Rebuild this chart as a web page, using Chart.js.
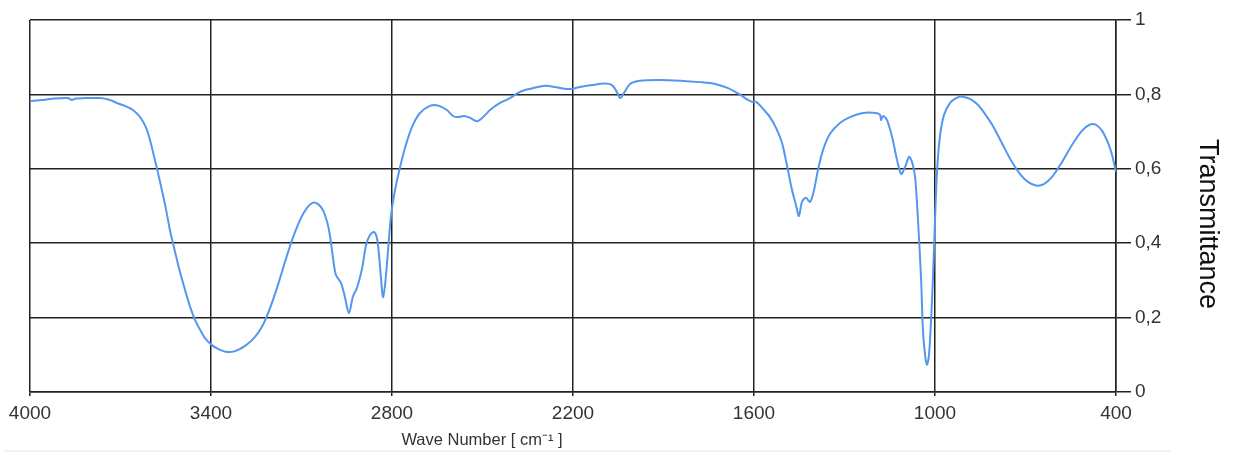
<!DOCTYPE html>
<html>
<head>
<meta charset="utf-8">
<script src="https://cdn.jsdelivr.net/npm/chart.js@4"></script>
<style>
  body { margin: 0; background: #fff; }
  canvas { display: block; }
</style>
</head>
<body>
<canvas id="irChart" width="1238" height="455"></canvas>
<script>
// wave numbers (cm-1) and transmittance
const waveNumbers = [
  4000, 3957, 3917, 3874, 3861, 3848, 3818, 3768, 3735, 3712, 3685, 3659, 3635, 3615, 3602,
  3586, 3569, 3552, 3536, 3519, 3503, 3486, 3470, 3453, 3436, 3420, 3397, 3377, 3350, 3320,
  3287, 3254, 3228, 3204, 3178, 3155, 3131, 3105, 3082, 3062, 3045, 3029, 3015, 3006, 2996,
  2986, 2969, 2956, 2943, 2929, 2916, 2899, 2886, 2873, 2860, 2850, 2843, 2836, 2830, 2823,
  2813, 2803, 2790, 2774, 2757, 2734, 2707, 2674, 2648, 2618, 2598, 2581, 2561, 2541, 2518,
  2498, 2475, 2442, 2409, 2382, 2359, 2336, 2316, 2290, 2260, 2227, 2203, 2177, 2137, 2094,
  2071, 2054, 2044, 2031, 2011, 1978, 1912, 1845, 1779, 1729, 1686, 1656, 1640, 1620, 1607,
  1593, 1570, 1547, 1527, 1507, 1491, 1474, 1461, 1451, 1441, 1428, 1414, 1401, 1388, 1371,
  1348, 1315, 1282, 1239, 1196, 1182, 1179, 1172, 1159, 1142, 1126, 1112, 1099, 1086, 1076,
  1066, 1056, 1046, 1040, 1033, 1027, 1020, 1013, 1007, 1000, 993, 983, 970, 950, 930,
  910, 884, 858, 834, 808, 775, 745, 718, 692, 665, 639, 612, 579, 546, 513,
  486, 466, 446, 426, 413, 400
];
const transmittance = [
  0.782, 0.785, 0.789, 0.790, 0.785, 0.789, 0.790, 0.790, 0.785, 0.777, 0.769, 0.758, 0.739, 0.710, 0.677,
  0.624, 0.565, 0.503, 0.435, 0.376, 0.323, 0.274, 0.231, 0.194, 0.167, 0.145, 0.126, 0.116, 0.108, 0.110,
  0.124, 0.148, 0.180, 0.226, 0.288, 0.349, 0.409, 0.462, 0.495, 0.509, 0.505, 0.489, 0.457, 0.422, 0.363,
  0.315, 0.293, 0.255, 0.212, 0.258, 0.280, 0.333, 0.395, 0.422, 0.430, 0.414, 0.368, 0.301, 0.255, 0.288,
  0.382, 0.476, 0.543, 0.602, 0.656, 0.712, 0.750, 0.769, 0.770, 0.758, 0.742, 0.739, 0.742, 0.737, 0.728,
  0.739, 0.758, 0.777, 0.790, 0.804, 0.812, 0.816, 0.820, 0.823, 0.820, 0.815, 0.815, 0.820, 0.825, 0.829,
  0.825, 0.806, 0.790, 0.804, 0.828, 0.837, 0.839, 0.837, 0.833, 0.828, 0.817, 0.804, 0.796, 0.785, 0.780,
  0.780, 0.761, 0.739, 0.710, 0.669, 0.610, 0.543, 0.503, 0.473, 0.511, 0.522, 0.511, 0.543, 0.597, 0.651,
  0.694, 0.723, 0.739, 0.750, 0.750, 0.745, 0.731, 0.742, 0.731, 0.685, 0.624, 0.586, 0.605, 0.632, 0.618,
  0.578, 0.457, 0.301, 0.167, 0.099, 0.073, 0.099, 0.194, 0.301, 0.462, 0.597, 0.691, 0.745, 0.777, 0.790,
  0.794, 0.788, 0.772, 0.747, 0.715, 0.664, 0.618, 0.586, 0.565, 0.555, 0.559, 0.578, 0.618, 0.664, 0.702,
  0.719, 0.718, 0.702, 0.669, 0.637, 0.591
];
const xTicks = [4000, 3400, 2800, 2200, 1600, 1000, 400];
const yTicks = [0, 0.2, 0.4, 0.6, 0.8, 1];

const xTitle = 'Wave Number [ cm\u207B\u00B9 ]';
const yTitle = 'Transmittance';

// titles and the thin separator line under the chart
const extras = {
  id: 'extras',
  afterDraw(chart) {
    const c = chart.ctx;
    c.save();
    c.strokeStyle = '#ececec';
    c.lineWidth = 1.5;
    c.beginPath();
    c.moveTo(4, 451);
    c.lineTo(1170, 451);
    c.stroke();

    c.fillStyle = '#333';
    c.font = '16.5px "Liberation Sans", Arial, sans-serif';
    c.textAlign = 'center';
    c.textBaseline = 'middle';
    c.fillText(xTitle, 482, 440);

    c.translate(1207, 224);
    c.rotate(Math.PI / 2);
    c.font = '27px "Liberation Sans", Arial, sans-serif';
    c.fillStyle = '#111';
    c.fillText(yTitle, 0, 0);
    c.restore();
  }
};

const ctx = document.getElementById('irChart').getContext('2d');
const chart = new Chart(ctx, {
  type: 'line',
  data: {
    datasets: [{
      label: yTitle,
      data: waveNumbers.map((w, i) => ({ x: w, y: transmittance[i] })),
      borderColor: '#5597ee',
      borderWidth: 2,
      pointRadius: 0,
      tension: 0.3,
      fill: false
    }]
  },
  options: {
    responsive: false,
    animation: false,
    layout: { padding: { left: 30, top: 20, right: 0, bottom: 0 } },
    plugins: { legend: { display: false }, tooltip: { enabled: false } },
    scales: {
      x: {
        type: 'linear',
        reverse: true,
        min: 400,
        max: 4000,
        afterBuildTicks: s => { s.ticks = xTicks.map(v => ({ value: v })); },
        afterFit: s => { s.height = 63; },
        grid: { color: '#222', lineWidth: 1.5, tickLength: 4 },
        border: { color: '#222', width: 1.5 },
        ticks: {
          color: '#333',
          font: { family: '"Liberation Sans", Arial, sans-serif', size: 19 },
          padding: 6,
          maxRotation: 0,
          callback: v => String(v)
        }
      },
      y: {
        position: 'right',
        min: 0,
        max: 1,
        afterBuildTicks: s => { s.ticks = yTicks.map(v => ({ value: v })); },
        afterFit: s => { s.width = 122; },
        grid: { color: '#222', lineWidth: 1.5, tickLength: 15 },
        border: { color: '#222', width: 1.5 },
        ticks: {
          color: '#333',
          font: { family: '"Liberation Sans", Arial, sans-serif', size: 19 },
          padding: 4,
          callback: v => (v === 0 || v === 1) ? String(v) : v.toFixed(1).replace('.', ',')
        }
      }
    }
  },
  plugins: [extras]
});
</script>
</body>
</html>
